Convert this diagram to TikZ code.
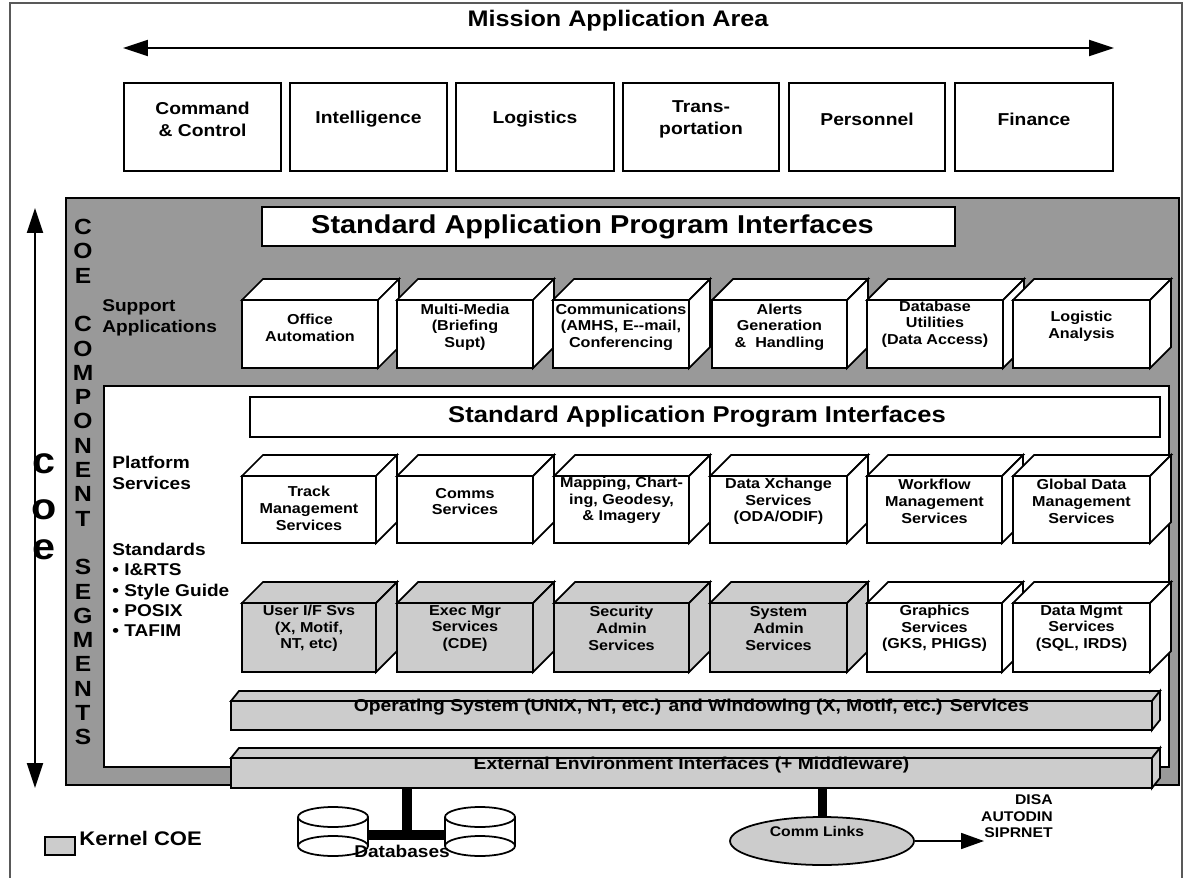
\documentclass[tikz,border=0pt]{standalone}
\usepackage{fontspec}
\setmainfont{Liberation Sans}[FakeStretch=1.12]
\usetikzlibrary{arrows.meta,shapes.geometric}
\definecolor{midgray}{gray}{0.6}
\definecolor{kern}{gray}{0.8}
\definecolor{framegray}{gray}{0.35}
% 3D box: name, x, y, w, h, fill, text shift, text
\newcommand\cubex[8]{%
  \node[frontbox, fill=#6, minimum width=#4*0.02cm, minimum height=#5*0.02cm] (#1) at (#2,#3) {};
  \draw[edge, fill=#6] (#1.north west) -- ++(21,-21) -- ++(#4,0) -- (#1.north east) -- cycle;
  \draw[edge, fill=#6] (#1.north east) -- ++(21,-21) -- ++(0,#5) -- (#1.south east) -- cycle;
  \node[btxt] (#1t) at ([yshift=#7*0.02cm]#1.center) {#8};
}
% flat bar: name, x, y, w, h, text
\newcommand\barx[6]{%
  \node[frontbox, fill=kern, minimum width=#4*0.02cm, minimum height=#5*0.02cm] (#1) at (#2,#3) {};
  \draw[edge, fill=kern] (#1.north west) -- ++(8,-10) -- ++(#4,0) -- (#1.north east) -- cycle;
  \draw[edge, fill=kern] (#1.north east) -- ++(8,-10) -- ++(0,#5) -- (#1.south east) -- cycle;
  \node[bartxt] (#1t) at ([yshift=8*0.02cm]#1.center) {#6};
}
\begin{document}
\begin{tikzpicture}[x=0.02cm,y=-0.02cm,
  edge/.style={line width=1pt, line join=miter},
  frontbox/.style={draw, line width=1pt, outer sep=0pt, inner sep=0pt, anchor=north west},
  btxt/.style={font=\bfseries\fontsize{8.2}{9.5}\selectfont, align=center, inner sep=0pt},
  bartxt/.style={font=\bfseries\fontsize{9.8}{11}\selectfont, inner sep=0pt},
  topbox/.style={draw, line width=1.2pt, outer sep=0pt, inner sep=0pt, anchor=north west, minimum height=88*0.02cm},
  toptxt/.style={font=\bfseries\fontsize{9.8}{12.5}\selectfont, align=center, inner sep=0pt},
  sapi/.style={draw, line width=1pt, fill=white, outer sep=0pt, inner sep=0pt, anchor=north west},
  side/.style={font=\bfseries\fontsize{9.7}{11.9}\selectfont, align=left, inner sep=0pt, anchor=west},
  vlet/.style={font=\bfseries\fontsize{12.5}{13}\selectfont, inner sep=0pt},
  bigl/.style={font=\bfseries\fontsize{21}{22}\selectfont, inner sep=0pt, anchor=base},
  bigarrow/.style={line width=1.2pt, {Triangle[length=0.5cm,width=0.32cm]}-{Triangle[length=0.5cm,width=0.32cm]}}
]
\useasboundingbox (0,0) rectangle (1186,878);
% frame
\draw[framegray, line width=0.8pt] (10,880) -- (10,3) -- (1182,3) -- (1182,880);

% mission application area
\node[font=\bfseries\fontsize{12.8}{14}\selectfont, inner sep=0pt] (title) at (618,21) {Mission Application Area};
\coordinate (al) at (123,48);
\coordinate (ar) at (1114,48);
\draw[bigarrow] (al) -- (ar);

\node[topbox, minimum width=157*0.02cm] (m1) at (124,83) {};
\node[topbox, minimum width=157*0.02cm] (m2) at (290,83) {};
\node[topbox, minimum width=158*0.02cm] (m3) at (456,83) {};
\node[topbox, minimum width=156*0.02cm] (m4) at (623,83) {};
\node[topbox, minimum width=156*0.02cm] (m5) at (789,83) {};
\node[topbox, minimum width=158*0.02cm] (m6) at (955,83) {};
\node[toptxt] (m1t) at ([yshift=8*0.02cm]m1.center) {Command\\\& Control};
\node[toptxt] (m2t) at ([yshift=8*0.02cm]m2.center) {Intelligence};
\node[toptxt] (m3t) at ([yshift=8*0.02cm]m3.center) {Logistics};
\node[toptxt] (m4t) at ([yshift=8*0.02cm]m4.center) {Trans-\\portation};
\node[toptxt] (m5t) at ([yshift=8*0.02cm]m5.center) {Personnel};
\node[toptxt] (m6t) at ([yshift=8*0.02cm]m6.center) {Finance};

% COE component area
\node[draw, line width=1.2pt, fill=midgray, outer sep=0pt, inner sep=0pt, anchor=north west,
      minimum width=1113*0.02cm, minimum height=587*0.02cm] (coe) at (66,198) {};
\node[sapi, minimum width=693*0.02cm, minimum height=39*0.02cm] (api1) at (262,207) {};
\node[font=\bfseries\fontsize{14.7}{16}\selectfont, inner sep=0pt] (api1t) at ([xshift=-16*0.02cm]api1.center) {Standard Application Program Interfaces};

% support applications
\cubex{s1}{242}{300}{136}{68}{white}{6}{Office\\Automation}
\cubex{s2}{397}{300}{136}{68}{white}{7}{Multi-Media\\(Briefing\\Supt)}
\cubex{s3}{553}{300}{136}{68}{white}{7}{Communications\\(AMHS, E-{}-mail,\\Conferencing}
\cubex{s4}{712}{300}{135}{68}{white}{7}{Alerts\\Generation\\\& ~Handling}
\cubex{s5}{867}{300}{136}{68}{white}{10}{Database\\Utilities\\(Data Access)}
\cubex{s6}{1013}{300}{137}{68}{white}{8}{Logistic\\Analysis}
\node[side] (supl) at (102,318) {Support\\Applications};

% platform area
\node[draw, line width=1.2pt, fill=white, outer sep=0pt, inner sep=0pt, anchor=north west,
      minimum width=1065*0.02cm, minimum height=381*0.02cm] (plat) at (104,386) {};
\node[sapi, minimum width=910*0.02cm, minimum height=40*0.02cm] (api2) at (250,397) {};
\node[font=\bfseries\fontsize{13}{14}\selectfont, inner sep=0pt] (api2t) at ([xshift=-8*0.02cm]api2.center) {Standard Application Program Interfaces};

\cubex{p1}{242}{476}{134}{67}{white}{1}{Track\\Management\\Services}
\cubex{p2}{397}{476}{136}{67}{white}{8}{Comms\\Services}
\cubex{p3}{554}{476}{135}{67}{white}{9}{Mapping, Chart-\\ing, Geodesy,\\\& Imagery}
\cubex{p4}{710}{476}{137}{67}{white}{8}{Data Xchange\\Services\\(ODA/ODIF)}
\cubex{p5}{867}{476}{135}{67}{white}{8}{Workflow\\Management\\Services}
\cubex{p6}{1013}{476}{137}{67}{white}{8}{Global Data\\Management\\Services}

\node[side] (platl) at (112,473) {Platform\\Services};
\node[side, font=\bfseries\fontsize{9.7}{11.6}\selectfont] (stdl) at (112,590)
  {Standards\\• I\&RTS\\• Style Guide\\• POSIX\\• TAFIM};

% kernel row
\cubex{k1}{242}{603}{134}{69}{kern}{9}{User I/F Svs\\(X, Motif,\\NT, etc)}
\cubex{k2}{397}{603}{136}{69}{kern}{9}{Exec Mgr\\Services\\(CDE)}
\cubex{k3}{554}{603}{135}{69}{kern}{9}{Security\\Admin\\Services}
\cubex{k4}{710}{603}{137}{69}{kern}{9}{System\\Admin\\Services}
\cubex{k5}{867}{603}{135}{69}{white}{9}{Graphics\\Services\\(GKS, PHIGS)}
\cubex{k6}{1013}{603}{137}{69}{white}{9}{Data Mgmt\\Services\\(SQL, IRDS)}

% bars
\barx{os}{231}{701}{921}{29}{Operating System (UNIX, NT, etc.) and Windowing (X, Motif, etc.) Services}
\barx{ext}{231}{758}{921}{30}{External Environment Interfaces (+ Middleware)}

% databases
\fill[white] (298,817) rectangle (368,846);
\draw[edge] (298,817) -- (298,846) (368,817) -- (368,846);
\draw[edge, fill=white] (333,817) ellipse [x radius=0.7cm, y radius=0.2cm];
\draw[edge] (333,846) ellipse [x radius=0.7cm, y radius=0.2cm];
\fill[white] (445,817) rectangle (515,846);
\draw[edge] (445,817) -- (445,846) (515,817) -- (515,846);
\draw[edge, fill=white] (480,817) ellipse [x radius=0.7cm, y radius=0.2cm];
\draw[edge] (480,846) ellipse [x radius=0.7cm, y radius=0.2cm];
\coordinate (dbj) at (407,835);
\coordinate (dbL) at (368,835);
\coordinate (dbR) at (446,835);
\draw[line width=0.2cm] (ext.south -| dbj) -- (dbj);
\draw[line width=0.2cm] (dbL) -- (dbR);
\node[font=\bfseries\fontsize{9.7}{11}\selectfont, inner sep=0pt] (dbt) at (402,851) {Databases};

% comm links
\node[ellipse, draw, line width=1pt, fill=kern, minimum width=3.68cm, minimum height=0.96cm, inner sep=0pt] (cl) at (822,841) {};
\draw[line width=0.18cm] (cl.north |- ext.south) -- (cl.north);
\node[font=\bfseries\fontsize{8}{9}\selectfont, inner sep=0pt] (clt) at (817,831) {Comm Links};
\node[font=\bfseries\fontsize{8}{9.6}\selectfont, align=right, inner sep=0pt, anchor=north east] (disa) at (1053,794) {DISA\\AUTODIN\\SIPRNET};
\coordinate (sipw) at (984,841);
\draw[line width=1pt, -{Triangle[length=0.46cm,width=0.32cm]}] (cl.east) -- (sipw);

% legend
\node[draw, line width=1pt, fill=kern, minimum width=0.6cm, minimum height=0.36cm, inner sep=0pt, outer sep=0pt, anchor=north west] (kl) at (45,837) {};
\node[font=\bfseries\fontsize{11.2}{12}\selectfont, inner sep=0pt, anchor=west] (klt) at (79,838) {Kernel COE};

% left arrow and letters
\coordinate (vt) at (35,208);
\coordinate (vb) at (35,788);
\draw[bigarrow] (vt) -- (vb);
\node[bigl] (bc) at (44,473) {c};
\node[bigl] (bo) at (44,519) {o};
\node[bigl] (be) at (44,559) {e};
\foreach \l/\i in {C/0,O/1,E/2,C/4,O/5,M/6,P/7,O/8,N/9,E/10,N/11,T/12,S/14,E/15,G/16,M/17,E/18,N/19,T/20,S/21}
  \node[vlet] (v\i) at (83,227+\i*24.3) {\l};
\end{tikzpicture}
\end{document}
